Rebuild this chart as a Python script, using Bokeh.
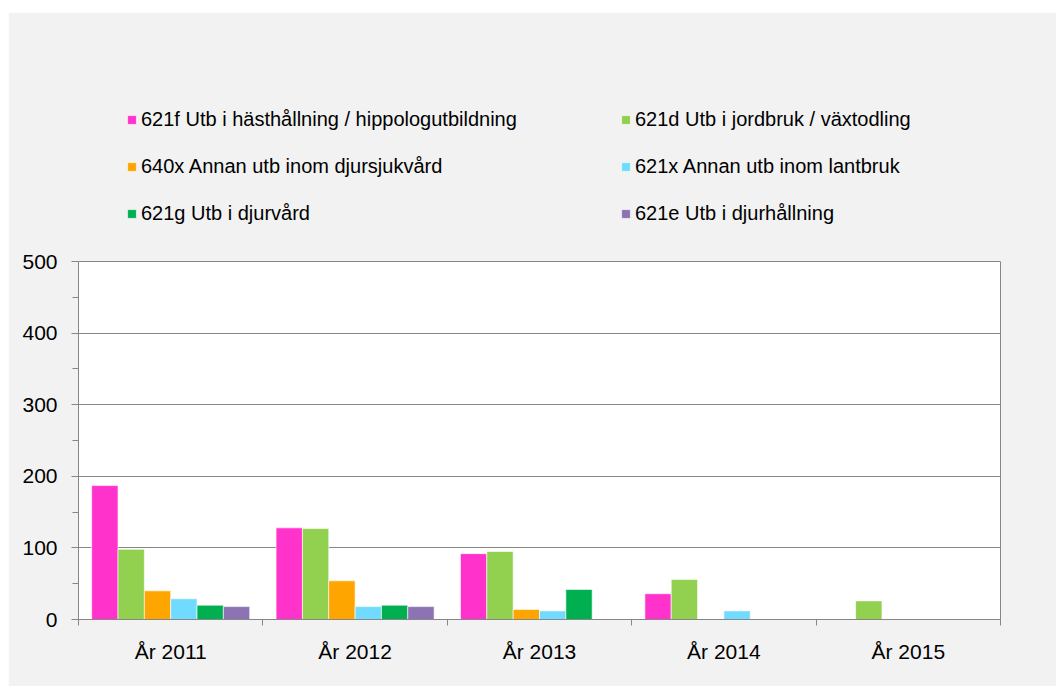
from bokeh.plotting import figure
from bokeh.models import Range1d, FixedTicker, Legend, LegendItem, LinearAxis, Spacer
from bokeh.layouts import column, row
from bokeh.embed import file_html
from bokeh.resources import INLINE

years = ["År 2011", "År 2012", "År 2013", "År 2014", "År 2015"]
series_names = [
    "621f Utb i hästhållning / hippologutbildning",
    "621d Utb i jordbruk / växtodling",
    "640x Annan utb inom djursjukvård",
    "621x Annan utb inom lantbruk",
    "621g Utb i djurvård",
    "621e Utb i djurhållning",
]
s621f = [187, 128, 92, 36, 0]
s621d = [98, 127, 95, 56, 26]
s640x = [40, 54, 14, 0, 0]
s621x = [29, 18, 12, 12, 0]
s621g = [20, 20, 42, 0, 0]
s621e = [18, 18, 0, 0, 0]
series = [s621f, s621d, s640x, s621x, s621g, s621e]
colors = ["#FF33CC", "#92D050", "#FFA500", "#70DBFF", "#00B050", "#8C74B4"]
y_ticks = [0, 100, 200, 300, 400, 500]
y_max = 500

FONT = "Liberation Sans"
GRAY = "#868686"
BG = "#f2f2f2"

W, H = 1048, 674
top_b, bot_b, left_b, right_b = 78, 67, 70, 56
plot_px = 358            # pixel height of the 0..500 value band
frame_px = H - top_b - bot_b
y_end = y_max * frame_px / plot_px   # extra room above the plot for the legend

p = figure(width=W, height=H, output_backend="svg", toolbar_location=None,
           x_range=Range1d(0, len(years)), y_range=Range1d(0, y_end),
           min_border_left=left_b, min_border_right=right_b,
           min_border_top=top_b, min_border_bottom=bot_b)
p.border_fill_color = BG
p.background_fill_color = BG
p.outline_line_color = BG
p.outline_line_width = 2

# white plot area 0..500
p.quad(left=0, right=len(years), bottom=0, top=y_max, fill_color="white",
       line_color=None, level="image")

group = 0.857
w = group / len(series)
renderers = []
for k, (vals, col) in enumerate(zip(series, colors)):
    xs = [i + 0.5 + (k - (len(series) - 1) / 2) * w for i in range(len(years))]
    r = p.vbar(x=xs, top=vals, bottom=0, width=w, fill_color=col,
               line_color="white", line_alpha=0.6, line_width=1)
    renderers.append(r)

p.xgrid.visible = False
p.ygrid.grid_line_color = GRAY
p.ygrid.ticker = FixedTicker(ticks=y_ticks)

p.yaxis.bounds = (0, y_max)
p.yaxis.ticker = FixedTicker(ticks=y_ticks, minor_ticks=[50, 150, 250, 350, 450])
p.yaxis.axis_line_color = GRAY
p.yaxis.major_tick_line_color = GRAY
p.yaxis.minor_tick_line_color = GRAY
p.yaxis.major_tick_out = 7
p.yaxis.major_tick_in = 0
p.yaxis.minor_tick_out = 6
p.yaxis.minor_tick_in = 0
p.yaxis.major_label_standoff = 14
p.yaxis.major_label_text_font = FONT
p.yaxis.major_label_text_font_size = "21px"
p.yaxis.major_label_text_color = "black"

# right border of the plot area
rax = LinearAxis(bounds=(0, y_max), ticker=FixedTicker(ticks=[]),
                 axis_line_color=GRAY, major_tick_line_color=None,
                 minor_tick_line_color=None, major_label_text_alpha=0)
p.add_layout(rax, "right")

centers = [i + 0.5 for i in range(len(years))]
p.xaxis.ticker = FixedTicker(ticks=centers, minor_ticks=list(range(len(years) + 1)))
p.xaxis.major_label_overrides = {c: y for c, y in zip(centers, years)}
p.xaxis.axis_line_color = GRAY
p.xaxis.major_tick_line_color = None
p.xaxis.major_tick_out = 0
p.xaxis.major_tick_in = 0
p.xaxis.minor_tick_line_color = GRAY
p.xaxis.minor_tick_out = 6
p.xaxis.minor_tick_in = 0
p.xaxis.major_label_standoff = 14
p.xaxis.major_label_text_font = FONT
p.xaxis.major_label_text_font_size = "21px"
p.xaxis.major_label_text_color = "black"

legend = Legend(
    items=[LegendItem(label=n, renderers=[r]) for n, r in zip(series_names, renderers)],
    orientation="horizontal", ncols=2,
    location=(48, 394), margin=0, padding=0,
    border_line_color=None, background_fill_alpha=0,
    glyph_width=11, glyph_height=11, label_standoff=4,
    label_width=456, label_height=24, spacing=23,
    label_text_font=FONT, label_text_font_size="20px", label_text_color="black",
)
p.add_layout(legend, "center")

layout = column(Spacer(height=12), row(Spacer(width=8), p))
open("out.html", "w").write(file_html(layout, INLINE))
